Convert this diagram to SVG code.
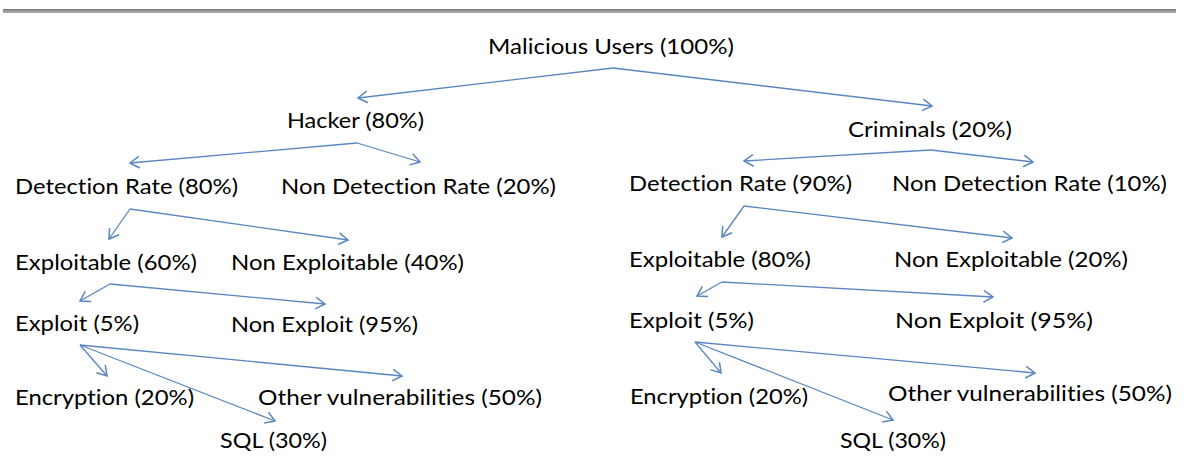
<svg xmlns="http://www.w3.org/2000/svg" width="1188" height="457" viewBox="0 0 1188 457">
  <style>
    .lbl { font-family: Lato, "Open Sans", "Liberation Sans", sans-serif; font-size: 22px; fill: #000; font-variant-ligatures: none; }
    .edge { fill: none; stroke: #5a86c0; stroke-width: 1.3; marker-end: url(#chev); }
  </style>
  <defs>
    <marker id="chev" markerUnits="userSpaceOnUse" markerWidth="14" markerHeight="14" refX="10" refY="6" orient="auto" viewBox="0 0 12 12">
      <path d="M2,1 L10,6 L2,11" fill="none" stroke="#5a86c0" stroke-width="1.3"/>
    </marker>
  </defs>

  <rect width="1188" height="457" fill="#fff"/>

  <!-- page rule -->
  <rect x="3" y="9" width="1173" height="4" fill="#a4a4a4"/>
  <line x1="3" y1="9.7" x2="1176" y2="9.7" stroke="#7c7c7c" stroke-width="1.4"/>

  <!-- connectors -->
  <g id="connectors">
    <path class="edge" d="M613,68 L358,98"/>
    <path class="edge" d="M613,68 L932,106"/>

    <path class="edge" d="M357,143 L130,163"/>
    <path class="edge" d="M357,143 L420,162"/>
    <path class="edge" d="M931,150 L744,161"/>
    <path class="edge" d="M931,150 L1033,162"/>

    <path class="edge" d="M130,209 L109,239"/>
    <path class="edge" d="M130,209 L348,240"/>
    <path class="edge" d="M744,206 L722,237"/>
    <path class="edge" d="M744,206 L1012,238"/>

    <path class="edge" d="M110,284 L80,301"/>
    <path class="edge" d="M110,284 L325,304"/>
    <path class="edge" d="M722,282 L697,296"/>
    <path class="edge" d="M722,282 L993,297"/>

    <path class="edge" d="M80,345 L107,376"/>
    <path class="edge" d="M80,345 L275,421"/>
    <path class="edge" d="M80,345 L402,376"/>
    <path class="edge" d="M695,342 L721,373"/>
    <path class="edge" d="M695,342 L893,420"/>
    <path class="edge" d="M695,342 L1035,373"/>
  </g>

  <!-- nodes -->
  <g id="n-root"><text class="lbl" x="488" y="54" textLength="246" lengthAdjust="spacingAndGlyphs">Malicious Users (100%)</text></g>

  <g id="n-hacker"><text class="lbl" x="287" y="128" textLength="137" lengthAdjust="spacingAndGlyphs">Hacker (80%)</text></g>
  <g id="n-criminals"><text class="lbl" x="848" y="137" textLength="164" lengthAdjust="spacingAndGlyphs">Criminals (20%)</text></g>

  <g id="n-h-detect"><text class="lbl" x="15" y="194" textLength="223" lengthAdjust="spacingAndGlyphs">Detection Rate (80%)</text></g>
  <g id="n-h-nodetect"><text class="lbl" x="281" y="194" textLength="275" lengthAdjust="spacingAndGlyphs">Non Detection  Rate (20%)</text></g>
  <g id="n-c-detect"><text class="lbl" x="629" y="191" textLength="223" lengthAdjust="spacingAndGlyphs">Detection Rate (90%)</text></g>
  <g id="n-c-nodetect"><text class="lbl" x="892" y="191" textLength="275" lengthAdjust="spacingAndGlyphs">Non Detection  Rate (10%)</text></g>

  <g id="n-h-expl"><text class="lbl" x="15" y="270" textLength="182" lengthAdjust="spacingAndGlyphs">Exploitable (60%)</text></g>
  <g id="n-h-noexpl"><text class="lbl" x="231" y="270" textLength="233" lengthAdjust="spacingAndGlyphs">Non Exploitable  (40%)</text></g>
  <g id="n-c-expl"><text class="lbl" x="629" y="267" textLength="182" lengthAdjust="spacingAndGlyphs">Exploitable (80%)</text></g>
  <g id="n-c-noexpl"><text class="lbl" x="894" y="267" textLength="234" lengthAdjust="spacingAndGlyphs">Non Exploitable  (20%)</text></g>

  <g id="n-h-exploit"><text class="lbl" x="15" y="331" textLength="124" lengthAdjust="spacingAndGlyphs">Exploit (5%)</text></g>
  <g id="n-h-noexploit"><text class="lbl" x="231" y="332" textLength="187" lengthAdjust="spacingAndGlyphs">Non Exploit (95%)</text></g>
  <g id="n-c-exploit"><text class="lbl" x="629" y="328" textLength="125" lengthAdjust="spacingAndGlyphs">Exploit (5%)</text></g>
  <g id="n-c-noexploit"><text class="lbl" x="895" y="328" textLength="198" lengthAdjust="spacingAndGlyphs">Non Exploit (95%)</text></g>

  <g id="n-h-enc"><text class="lbl" x="15" y="405" textLength="179" lengthAdjust="spacingAndGlyphs">Encryption (20%)</text></g>
  <g id="n-h-other"><text class="lbl" x="258" y="405" textLength="284" lengthAdjust="spacingAndGlyphs">Other vulnerabilities  (50%)</text></g>
  <g id="n-h-sql"><text class="lbl" x="220" y="448" textLength="107" lengthAdjust="spacingAndGlyphs">SQL (30%)</text></g>
  <g id="n-c-enc"><text class="lbl" x="630" y="404" textLength="178" lengthAdjust="spacingAndGlyphs">Encryption (20%)</text></g>
  <g id="n-c-other"><text class="lbl" x="888" y="401" textLength="284" lengthAdjust="spacingAndGlyphs">Other vulnerabilities  (50%)</text></g>
  <g id="n-c-sql"><text class="lbl" x="840" y="448" textLength="106" lengthAdjust="spacingAndGlyphs">SQL (30%)</text></g>
</svg>
